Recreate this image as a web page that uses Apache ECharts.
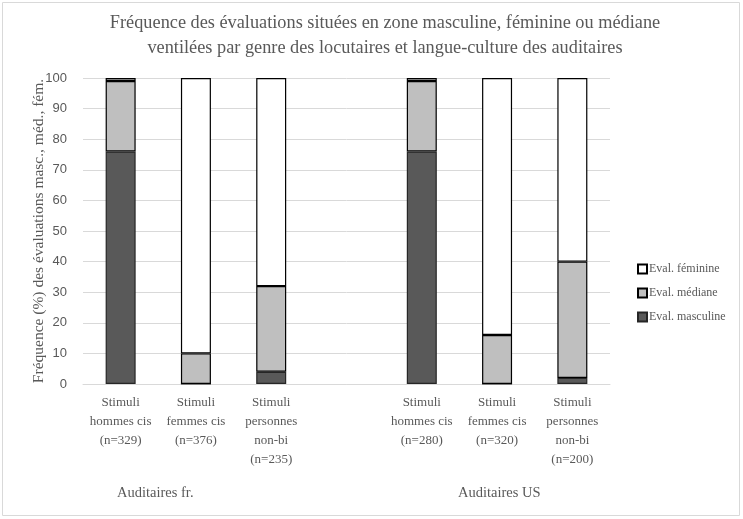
<!DOCTYPE html>
<html>
<head>
<meta charset="utf-8">
<script src="https://cdn.jsdelivr.net/npm/echarts@6/dist/echarts.min.js"></script>
<style>html,body{margin:0;padding:0;background:#fff}#c{width:743px;height:519px}</style>
</head>
<body>
<div id="c"></div>
<script>
var categories = [
  'Stimuli\nhommes cis\n(n=329)', 'Stimuli\nfemmes cis\n(n=376)', 'Stimuli\npersonnes\nnon-bi\n(n=235)',
  '',
  'Stimuli\nhommes cis\n(n=280)', 'Stimuli\nfemmes cis\n(n=320)', 'Stimuli\npersonnes\nnon-bi\n(n=200)'
];
var groupLabels = ['Auditaires fr.', 'Auditaires US'];
var seriesNames = ['Eval. masculine', 'Eval. médiane', 'Eval. féminine'];
var masculine = [76, 0, 4, null, 76, 0, 2];
var mediane   = [23, 10, 28, null, 23, 16, 38];
var feminine  = [1, 90, 68, null, 1, 84, 60];
var titleLines = 'Fréquence des évaluations situées en zone masculine, féminine ou médiane\nventilées par genre des locutaires et langue-culture des auditaires';
var yName = 'Fréquence (%) des évaluations masc., méd., fém.';

var serif = '"Liberation Serif", "DejaVu Serif", serif';
var sans = '"Liberation Sans", Arial, sans-serif';
var grey = '#595959';

var chart = echarts.init(document.getElementById('c'), null, {renderer: 'canvas'});
function mk(name, data, color, border) {
  return {
    name: name, type: 'bar', stack: 'all', data: data, barWidth: 30,
    itemStyle: {color: color, borderColor: border, borderWidth: 1.2},
    emphasis: {disabled: true}
  };
}
chart.setOption({
  animation: false,
  title: {
    text: titleLines, left: 380, top: 6, textAlign: 'center',
    textStyle: {fontFamily: serif, fontSize: 18.3, fontWeight: 'normal', color: grey, lineHeight: 25}
  },
  grid: {left: 83, right: 133, top: 78, bottom: 135},
  legend: {
    data: [seriesNames[2], seriesNames[1], seriesNames[0]],
    orient: 'vertical', left: 632, top: 258, itemWidth: 9, itemHeight: 9, itemGap: 12,
    icon: 'rect',
    textStyle: {fontFamily: serif, fontSize: 12, color: grey, padding: [0, 0, 0, -3]}
  },
  xAxis: {
    type: 'category', data: categories,
    axisLine: {lineStyle: {color: '#d9d9d9', width: 1}},
    axisTick: {show: false},
    axisLabel: {interval: 0, fontFamily: serif, fontSize: 13, color: grey, lineHeight: 19, margin: 9}
  },
  yAxis: {
    type: 'value', min: 0, max: 100, interval: 10,
    name: yName, nameLocation: 'middle', nameGap: 36, nameMoveOverlap: false,
    nameTextStyle: {fontFamily: serif, fontSize: 15.5, color: grey},
    axisLine: {show: false}, axisTick: {show: false},
    axisLabel: {fontFamily: sans, fontSize: 13, color: grey, margin: 16},
    splitLine: {lineStyle: {color: '#d9d9d9', width: 1}}
  },
  graphic: [
    {type: 'rect', shape: {x: 2.5, y: 2.5, width: 737, height: 513}, style: {fill: null, stroke: '#d9d9d9', lineWidth: 1}, silent: true},
    {type: 'text', left: 117, top: 486, style: {text: groupLabels[0], font: '14.5px ' + serif, fill: grey}},
    {type: 'text', left: 458, top: 486, style: {text: groupLabels[1], font: '14.5px ' + serif, fill: grey}}
  ],
  series: [
    mk(seriesNames[0], masculine, '#595959', '#262626'),
    mk(seriesNames[1], mediane, '#bfbfbf', '#000000'),
    mk(seriesNames[2], feminine, '#ffffff', '#000000')
  ]
});
</script>
</body>
</html>
